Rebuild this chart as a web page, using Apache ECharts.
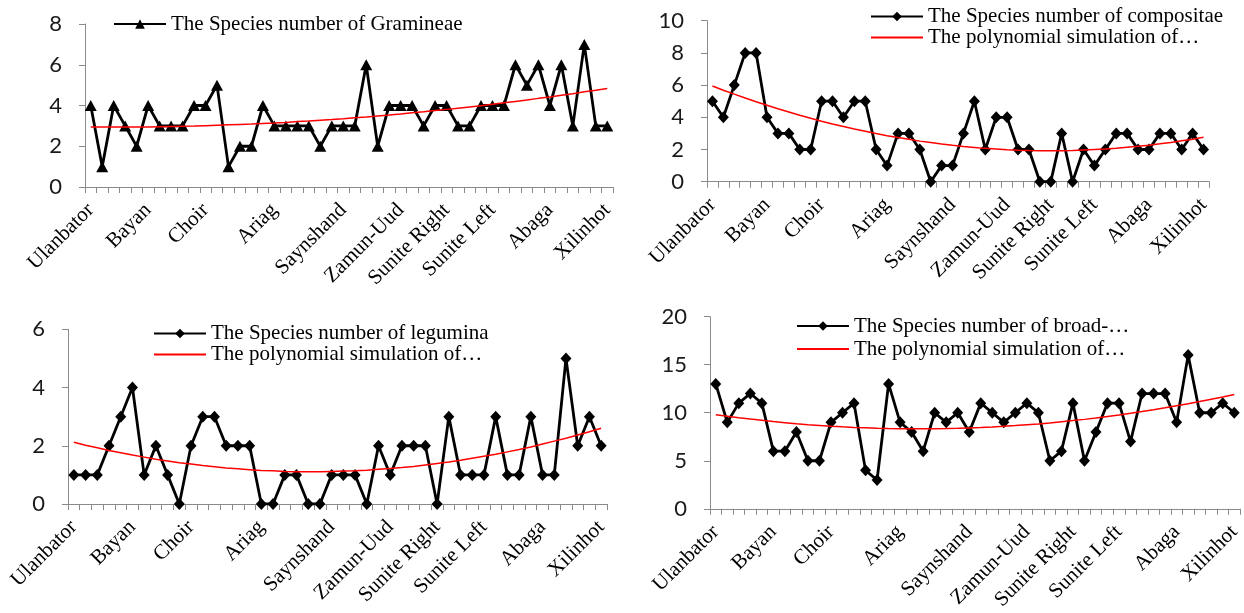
<!DOCTYPE html>
<html>
<head>
<meta charset="utf-8">
<script src="https://cdn.jsdelivr.net/npm/echarts@6/dist/echarts.min.js"></script>
<style>
  html, body { margin: 0; padding: 0; background: #fff; }
  #chart { width: 1244px; height: 613px; }
</style>
</head>
<body>
<div id="chart"></div>
<script>
// Sampling sites along the transect; only the town sites carry a name
const sites = ['Ulanbator','','','','','Bayan','','','','','Choir','','','','','','Ariag','','','','','',
  'Saynshand','','','','','Zamun-Uud','','','','Sunite Right','','','','Sunite Left','','','','',
  'Abaga','','','','','Xilinhot'];

// Species counts per site
const gramineae = [4,1,4,3,2,4,3,3,3,4,4,5,1,2,2,4,3,3,3,3,2,3,3,3,6,2,4,4,4,3,4,4,3,3,4,4,4,6,5,6,4,6,3,7,3,3];
const compositae = [5,4,6,8,8,4,3,3,2,2,5,5,4,5,5,2,1,3,3,2,0,1,1,3,5,2,4,4,2,2,0,0,3,0,2,1,2,3,3,2,2,3,3,2,3,2];
const legumina = [1,1,1,2,3,4,1,2,1,0,2,3,3,2,2,2,0,0,1,1,0,0,1,1,1,0,2,1,2,2,2,0,3,1,1,1,3,1,1,3,1,1,5,2,3,2];
const broadLeaved = [13,9,11,12,11,6,6,8,5,5,9,10,11,4,3,13,9,8,6,10,9,10,8,11,10,9,10,11,10,5,6,11,5,8,11,11,7,12,12,12,9,16,10,10,11,10];

// Polynomial trend curves
const gramineaeTrend = [2.95,2.95,2.95,2.95,2.95,2.95,2.96,2.97,2.98,2.99,3.01,3.03,3.05,3.07,3.09,3.12,3.14,3.17,3.21,3.24,3.28,3.31,3.35,3.40,3.44,3.49,3.53,3.58,3.64,3.69,3.75,3.81,3.87,3.93,3.99,4.06,4.13,4.20,4.27,4.35,4.42,4.50,4.58,4.67,4.75,4.84];
const compositaeTrend = [5.94,5.68,5.44,5.20,4.97,4.75,4.53,4.33,4.13,3.94,3.76,3.59,3.43,3.27,3.13,2.99,2.86,2.74,2.63,2.52,2.43,2.34,2.26,2.19,2.13,2.07,2.03,1.99,1.96,1.94,1.93,1.93,1.93,1.94,1.97,2.00,2.03,2.08,2.14,2.20,2.27,2.35,2.44,2.54,2.64,2.76];
const leguminaTrend = [2.12,2.02,1.93,1.84,1.76,1.68,1.61,1.54,1.48,1.42,1.37,1.32,1.28,1.24,1.21,1.18,1.15,1.14,1.12,1.11,1.11,1.11,1.12,1.13,1.14,1.16,1.19,1.22,1.25,1.29,1.34,1.39,1.44,1.50,1.57,1.64,1.71,1.79,1.87,1.96,2.06,2.16,2.26,2.37,2.48,2.60];
const broadLeavedTrend = [9.80,9.64,9.48,9.34,9.21,9.08,8.97,8.86,8.76,8.68,8.60,8.53,8.47,8.43,8.39,8.36,8.34,8.33,8.33,8.33,8.35,8.38,8.42,8.46,8.52,8.59,8.66,8.75,8.84,8.94,9.06,9.18,9.31,9.45,9.61,9.77,9.94,10.12,10.31,10.51,10.72,10.93,11.16,11.40,11.64,11.90];

// Value axis ranges [max, interval]
const yRanges = [[8, 2], [10, 2], [6, 2], [20, 5]];

const trendName = 'The polynomial simulation of\u2026';
const countNames = [
  'The Species number of Gramineae',
  'The Species number of compositae',
  'The Species number of legumina',
  'The Species number of broad-\u2026'
];

const serif = '"Liberation Serif", "Times New Roman", serif';
const sans = 'Lato, "Liberation Sans", sans-serif';
const axisGray = '#8a8a8a';

const grids = [
  { left: 85,  top: 24,    width: 528, height: 163 },
  { left: 707, top: 20.7,  width: 502, height: 161 },
  { left: 68,  top: 329.3, width: 539, height: 174.7 },
  { left: 710, top: 316.7, width: 530, height: 194 }
];

const xAxes = grids.map((g, i) => ({
  type: 'category',
  gridIndex: i,
  data: sites,
  boundaryGap: true,
  axisLine: { lineStyle: { color: axisGray, width: 1 } },
  axisTick: { show: true, interval: 0, length: 6, lineStyle: { color: axisGray } },
  axisLabel: {
    interval: 0, rotate: 45, margin: 20,
    fontFamily: serif, fontSize: 21, color: '#000'
  },
  splitLine: { show: false }
}));

const yAxes = grids.map((g, i) => ({
  type: 'value',
  gridIndex: i,
  min: 0, max: yRanges[i][0], interval: yRanges[i][1],
  axisLine: { show: true, lineStyle: { color: axisGray, width: 1 } },
  axisTick: { show: true, length: 6, lineStyle: { color: axisGray } },
  axisLabel: { margin: 23, fontFamily: sans, fontSize: 22, color: '#1a1a1a' },
  splitLine: { show: false }
}));

const countData = [gramineae, compositae, legumina, broadLeaved];
const trendData = [gramineaeTrend, compositaeTrend, leguminaTrend, broadLeavedTrend];

const series = [];
countData.forEach((d, i) => {
  series.push({
    name: countNames[i], type: 'line', xAxisIndex: i, yAxisIndex: i, data: d,
    symbol: i === 0 ? 'triangle' : 'diamond',
    symbolSize: i === 0 ? [12, 11] : [11, 12],
    itemStyle: { color: '#000' },
    lineStyle: { color: '#000', width: 2.8 },
    animation: false, z: 2
  });
  series.push({
    name: trendName, type: 'line', xAxisIndex: i, yAxisIndex: i, data: trendData[i],
    showSymbol: false, symbol: 'none',
    itemStyle: { color: '#ff0000' },
    lineStyle: { color: '#ff0000', width: 1.5 },
    animation: false, z: 3
  });
});

// Trend entries show a plain red stroke, no marker
const trendLegendItem = { name: trendName, itemStyle: { opacity: 0 } };

const legendText = { fontFamily: serif, fontSize: 21, color: '#000', lineHeight: 21 };
const legendBase = {
  orient: 'vertical', padding: 0, itemWidth: 52, itemHeight: 12, itemGap: 0,
  textStyle: legendText, selectedMode: false
};
const legends = [
  Object.assign({}, legendBase, { left: 113, top: 13.5, data: [countNames[0]] }),
  Object.assign({}, legendBase, { left: 870, top: 6,    data: [countNames[1], trendLegendItem] }),
  Object.assign({}, legendBase, { left: 153, top: 323,  data: [countNames[2], trendLegendItem] }),
  Object.assign({}, legendBase, { left: 796, top: 315.5, itemGap: 2, data: [countNames[3], trendLegendItem] })
];

const chart = echarts.init(document.getElementById('chart'), null, { renderer: 'canvas' });
chart.setOption({
  backgroundColor: '#fff',
  animation: false,
  grid: grids,
  xAxis: xAxes,
  yAxis: yAxes,
  legend: legends,
  series: series
});
</script>
</body>
</html>
